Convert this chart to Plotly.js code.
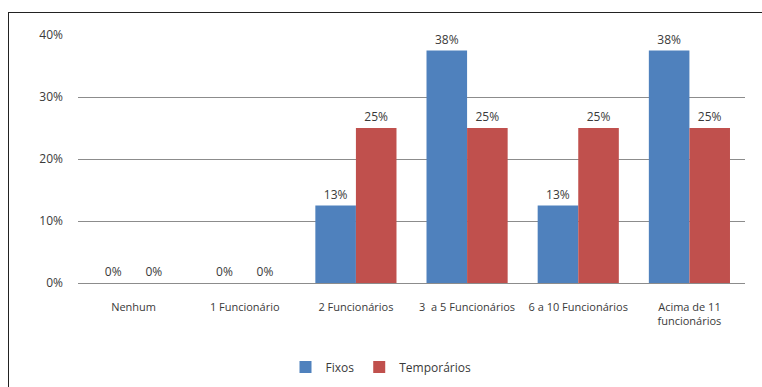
<!DOCTYPE html>
<html><head><meta charset="utf-8">
<script src="https://cdn.plot.ly/plotly-3.0.1.min.js"></script>
<style>
html,body{margin:0;padding:0;background:#fff;overflow:hidden;width:762px;height:387px;}
#frame{position:absolute;left:8px;top:12px;width:800px;height:400px;border:1px solid #222;box-sizing:border-box;}
#chart{position:absolute;left:0;top:0;width:762px;height:387px;}
</style></head>
<body>
<div id="frame"></div>
<div id="chart"></div>
<script>
const categories = ["Nenhum", "1 Funcionário", "2 Funcionários", "3  a 5 Funcionários", "6 a 10 Funcionários", "Acima de 11<br>funcionários"];
const fixos = [0, 0, 12.5, 37.5, 12.5, 37.5];
const temporarios = [0, 0, 25, 25, 25, 25];
const tickVals = [0, 10, 20, 30, 40];
const tickText = ["0%", "10%", "20%", "30%", "40%"];

const fam = "Open Sans, DejaVu Sans, sans-serif";
const txt = "#3a3a3a";
const traces = [
  {type: "bar", name: "Fixos", x: categories, y: fixos, marker: {color: "#4F81BD"},
   texttemplate: "%{y:.0f}%", textposition: "outside", cliponaxis: false,
   textfont: {family: fam, size: 12, color: txt}},
  {type: "bar", name: "Temporários", x: categories, y: temporarios, marker: {color: "#C0504D"},
   texttemplate: "%{y:.0f}%", textposition: "outside", cliponaxis: false,
   textfont: {family: fam, size: 12, color: txt}}
];
const layout = {
  width: 762, height: 387,
  margin: {l: 78, r: 17, t: 35, b: 104, autoexpand: false},
  paper_bgcolor: "rgba(0,0,0,0)", plot_bgcolor: "rgba(0,0,0,0)",
  font: {family: fam, size: 11, color: txt},
  barmode: "group", bargap: 0.27, bargroupgap: 0,
  showlegend: true,
  legend: {orientation: "h", x: 0.5, xanchor: "center", xref: "container",
           y: 0.052, yanchor: "middle", yref: "container",
           font: {family: fam, size: 12, color: txt}, traceorder: "normal", itemwidth: 30},
  xaxis: {type: "category", showgrid: false, showline: false, zeroline: false, ticks: "",
          ticklabelstandoff: 16,
          tickfont: {family: fam, size: 11, color: txt}, tickangle: 0},
  yaxis: {range: [0, 40], tickvals: tickVals, ticktext: tickText, showgrid: true,
          gridcolor: "#8c8c8c", gridwidth: 1, zeroline: true, zerolinecolor: "#8c8c8c", zerolinewidth: 1,
          showline: false, ticks: "", ticklabelstandoff: 14,
          tickfont: {family: fam, size: 12, color: txt}}
};
Plotly.newPlot("chart", traces, layout, {displayModeBar: false, staticPlot: true});
</script>
</body></html>
